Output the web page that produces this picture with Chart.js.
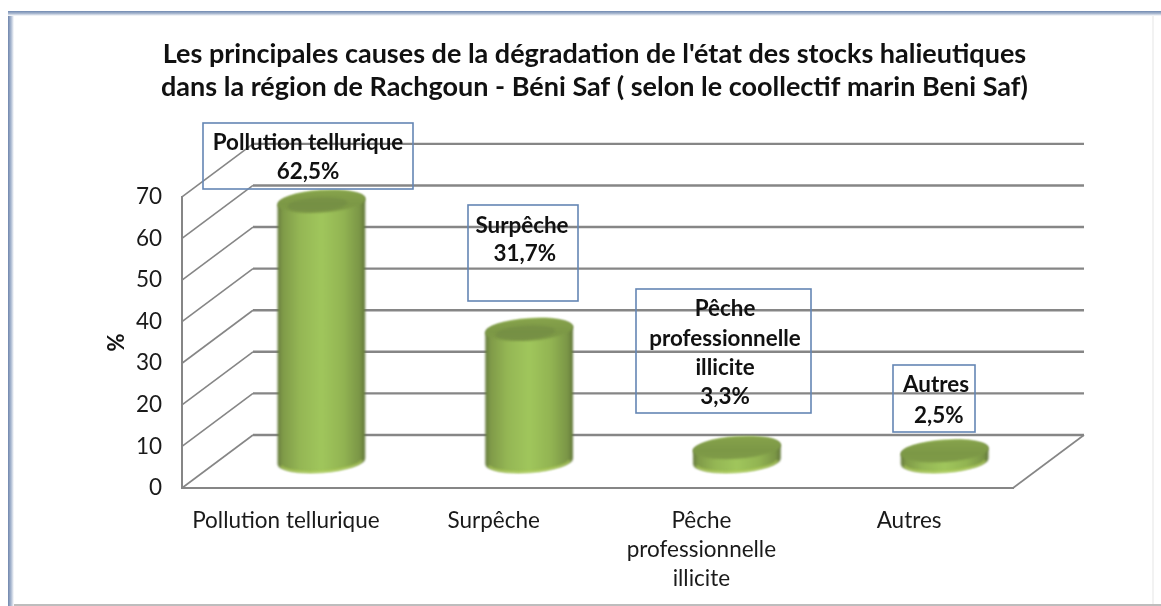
<!DOCTYPE html>
<html><head><meta charset="utf-8">
<style>html,body{margin:0;padding:0;background:#fff}#w{position:relative;width:1161px;height:606px}</style>
<script src="https://cdn.jsdelivr.net/npm/chart.js@4"></script>
</head><body><div id="w"><canvas id="c" width="1161" height="606"></canvas></div>
<script>
const titleLines = ["Les principales causes de la dégradation de l'état des stocks halieutiques","dans la région de Rachgoun - Béni Saf ( selon le coollectif marin Beni Saf)"];
const categories = [["Pollution tellurique"],["Surpêche"],["Pêche","professionnelle","illicite"],["Autres"]];
const values = [62.5,31.7,3.3,2.5];
const yTitle = "%";
const noteLines = [["Pollution tellurique","62,5%"],["Surpêche"," 31,7%"],["Pêche","professionnelle","illicite","3,3%"],["Autres"," 2,5%"]];
const noteBoxes = [[203,123,210,66],[468,205,110,96],[636,289,175,124],[893,365,82,67]];
const noteCenters = [308,522,725,936];
const noteBaselines = [[143,172],[226,254],[309,339,368,397],[385,416]];
const depth = {x:71,y:53};
const FONT = "Lato, Carlito, sans-serif";

function cylinder(ctx,cx,yTop,yBase,w){
  const rx=w/2, ry=11, rot=-4*Math.PI/180;
  const dx=rx*Math.cos(rot), dy=rx*Math.sin(rot);
  ctx.save();
  ctx.filter='blur(0.9px)';
  const g=ctx.createLinearGradient(cx-rx,0,cx+rx,0);
  g.addColorStop(0,'#667b3e');g.addColorStop(.06,'#7f9a48');g.addColorStop(.25,'#94b654');
  g.addColorStop(.5,'#a0c65c');g.addColorStop(.75,'#92b452');g.addColorStop(.94,'#7a9546');g.addColorStop(1,'#61763a');
  ctx.beginPath();
  ctx.ellipse(cx,yBase,rx,ry,rot,0,Math.PI);
  ctx.lineTo(cx-dx,yTop-dy);
  ctx.ellipse(cx,yTop,rx,ry,rot,Math.PI,2*Math.PI);
  ctx.closePath();ctx.fillStyle=g;ctx.fill();
  ctx.beginPath();ctx.ellipse(cx,yBase,rx-3,ry-1,rot,0.15,Math.PI-0.15);
  ctx.strokeStyle='rgba(175,205,85,.7)';ctx.lineWidth=2;ctx.stroke();
  const t=ctx.createLinearGradient(0,yTop-ry,0,yTop+ry);
  t.addColorStop(0,'#86a24b');t.addColorStop(.6,'#7c9846');t.addColorStop(1,'#7f9b48');
  ctx.beginPath();ctx.ellipse(cx,yTop,rx,ry,rot,0,2*Math.PI);ctx.fillStyle=t;ctx.fill();
  if(yBase-yTop>30){
    ctx.beginPath();ctx.ellipse(cx-4,yTop+3,rx-14,ry-4,rot,0,2*Math.PI);ctx.fillStyle='rgba(105,130,65,.35)';ctx.fill();
  }
  ctx.restore();
}

const frame = {id:'frame',
  afterLayout(c){ if(c.titleBlock){c.titleBlock.left-=73;c.titleBlock.right+=67;} },
  beforeDraw(c){
  const x=c.ctx;x.save();
  x.fillStyle='#fff';x.fillRect(0,0,c.width,c.height);
  let g=x.createLinearGradient(8,0,14,0);
  g.addColorStop(0,'#6f86ad');g.addColorStop(.5,'#a9b8d0');g.addColorStop(1,'#fff');
  x.fillStyle=g;x.fillRect(8,12,6,594);
  g=x.createLinearGradient(0,11,0,16);
  g.addColorStop(0,'#7089b0');g.addColorStop(.5,'#a9b8d0');g.addColorStop(1,'#fff');
  x.fillStyle=g;x.fillRect(8,11,1153,5);
  x.fillStyle='#f2f2f2';x.fillRect(1152,16,2,588);
  x.fillStyle='#bdbdbd';x.fillRect(14,604,1147,2);
  x.restore();
}};

const walls = {id:'walls',beforeDatasetsDraw(c){
  const {ctx:x,scales:{x:sx,y:sy},chartArea:a}=c;
  x.save();x.strokeStyle='#868686';
  sy.ticks.forEach(t=>{
    const p=sy.getPixelForValue(t.value);
    x.lineWidth=1.6;x.beginPath();x.moveTo(a.left,p);x.lineTo(a.left+depth.x,p-depth.y);x.stroke();
    x.lineWidth=2.4;x.beginPath();x.moveTo(a.left+depth.x,p-depth.y);x.lineTo(a.right+depth.x,p-depth.y);x.stroke();
  });
  x.lineWidth=1.6;x.beginPath();x.moveTo(a.right,a.bottom);x.lineTo(a.right+depth.x,a.bottom-depth.y);x.stroke();
  x.restore();
}};

const cylinders = {id:'cylinders',
  beforeDatasetDraw(c,args){
    const meta=c.getDatasetMeta(args.index);
    meta.data.forEach(b=>{
      cylinder(c.ctx,b.x+depth.x/2,b.y-depth.y/2,b.base-depth.y/2,b.width);
    });
    return false;
  },
  afterDatasetsDraw(c){
    const x=c.ctx;x.save();
    noteBoxes.forEach((b,i)=>{
      x.strokeStyle='#6486b4';x.lineWidth=1.6;x.strokeRect(b[0],b[1],b[2],b[3]);
      x.font='bold 22.4px '+FONT;x.fillStyle='#111';x.textAlign='center';x.textBaseline='middle';
      noteLines[i].forEach((l,j)=>x.fillText(l,noteCenters[i],noteBaselines[i][j]));
    });
    x.restore();
  }
};

new Chart(document.getElementById('c'),{
  type:'bar',
  data:{labels:categories,datasets:[{data:values,backgroundColor:'#9bbb59',barPercentage:88/208/0.8,categoryPercentage:.8}]},
  plugins:[frame,walls,cylinders],
  options:{
    responsive:false,animation:false,
    layout:{padding:{left:100,right:148,top:0,bottom:0}},
    plugins:{
      legend:{display:false},tooltip:{enabled:false},
      title:{display:true,fullSize:false,text:titleLines,color:'#111',
        font:{family:FONT,size:27,weight:'bold',lineHeight:1.22},
        padding:{top:37.5,bottom:93.5}}
    },
    scales:{
      x:{grid:{display:false,drawTicks:false},border:{display:true,color:'#868686',width:2},
        afterFit(s){s.height=118},
        ticks:{color:'#1a1a1a',maxRotation:0,autoSkip:false,padding:18,font:{family:FONT,size:22.5,lineHeight:1.29}}},
      y:{min:0,max:70,
        grid:{display:false,drawTicks:false},border:{display:true,color:'#868686',width:2},
        afterFit(s){s.width=82},
        title:{display:true,text:yTitle,color:'#111',font:{family:FONT,size:22,weight:'bold'}},
        ticks:{stepSize:10,color:'#1a1a1a',padding:20,font:{family:FONT,size:22.5}}}
    }
  }
});
</script></body></html>
